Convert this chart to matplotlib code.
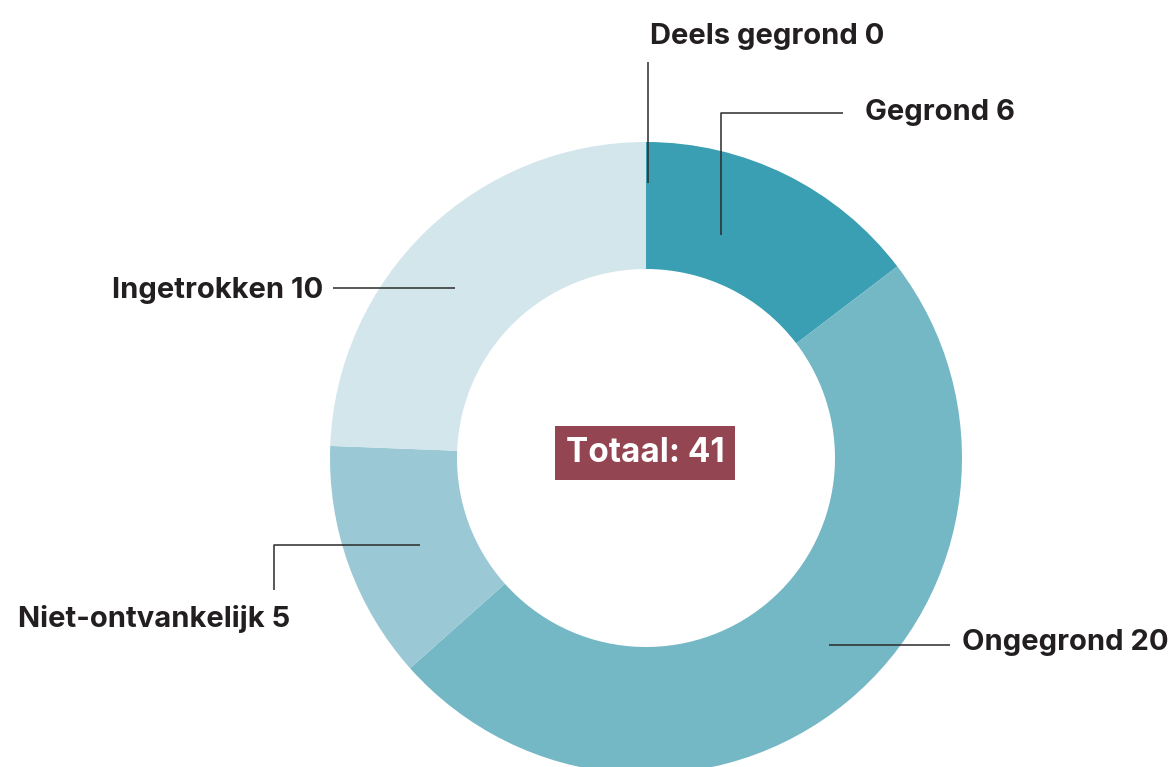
import numpy as np
import matplotlib.pyplot as plt

labels = ['Deels gegrond', 'Gegrond', 'Ongegrond', 'Niet-ontvankelijk', 'Ingetrokken']
values = [0, 6, 20, 5, 10]
colors = ['#3a9fb2', '#3a9fb2', '#74b7c5', '#9ac9d5', '#d3e6ec']

W, H = 1173, 767
plt.rcParams['font.family'] = ['Inter', 'DejaVu Sans']

# pixel layout (y measured from top)
cx, cy = 646, 458
r_out, r_in = 316, 189

# leader lines: polyline points, label anchor, alignment
leaders = [
    ([(648, 183), (648, 62)], (650, 37), 'left'),
    ([(721, 235), (721, 113), (843, 113)], (865, 113), 'left'),
    ([(829, 645), (950, 645)], (962, 643), 'left'),
    ([(420, 545), (274, 545), (274, 590)], (18, 619), 'left'),
    ([(455, 288), (333, 288)], (323, 290), 'right'),
]


def P(px, py):
    return px, H - py


fig = plt.figure(figsize=(W / 100, H / 100), dpi=100)
ax = fig.add_axes([0, 0, 1, 1])

ax.pie(values, colors=colors, startangle=90, counterclock=False,
       radius=r_out, center=P(cx, cy),
       wedgeprops=dict(width=r_out - r_in, edgecolor='none', linewidth=0))

for (pts, (tx, ty), ha), lab, v in zip(leaders, labels, values):
    xs, ys = zip(*[P(*p) for p in pts])
    ax.plot(xs, ys, color='#2b2b2b', lw=1.1, solid_capstyle='butt', zorder=3)
    ax.text(*P(tx, ty), f'{lab} {v}', ha=ha, va='center', fontsize=21,
            fontweight='bold', color='#231f20')

ax.text(*P(645, 453), f'Totaal: {sum(values)}', ha='center', va='center',
        fontsize=24, fontweight='bold', color='white', zorder=5,
        bbox=dict(boxstyle='square,pad=0.33', facecolor='#944552', edgecolor='none'))

ax.set_xlim(0, W)
ax.set_ylim(0, H)
ax.set_aspect('equal')
ax.axis('off')

fig.savefig('out.png', dpi=100)
